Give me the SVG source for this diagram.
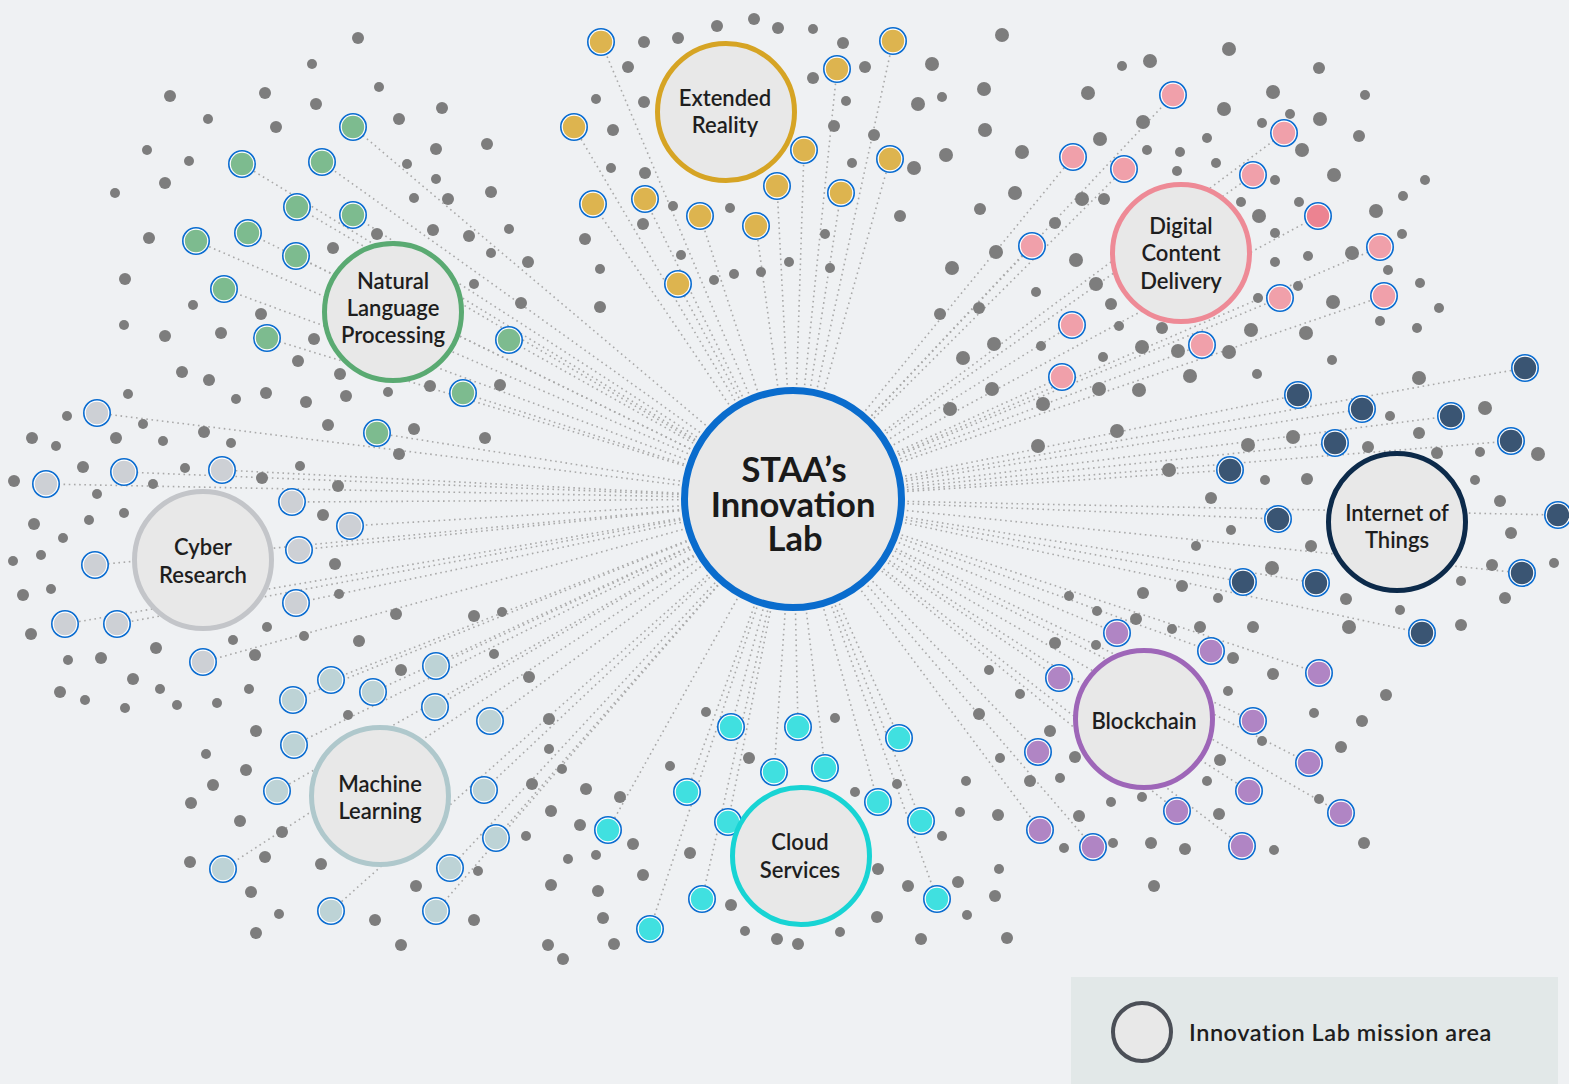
<svg xmlns="http://www.w3.org/2000/svg" xmlns:xlink="http://www.w3.org/1999/xlink" width="1569" height="1084" viewBox="0 0 1569 1084">
<style>
.lbl{font-family:Lato,"Liberation Sans",sans-serif;font-weight:600;font-size:22px;fill:#1e1e1e;text-anchor:middle}
.ctr{font-family:Lato,"Liberation Sans",sans-serif;font-weight:700;font-size:34.5px;fill:#1a1a1a;text-anchor:middle}
.leg{font-family:Lato,"Liberation Sans",sans-serif;font-weight:600;font-size:23.5px;letter-spacing:0.55px;fill:#1e1e1e}
.conn line{stroke:#a9a9a9;stroke-width:1.6;stroke-dasharray:1.6 3.6;fill:none}
.gray circle{fill:#7d7d7d}
.area{fill:#e8e8e8;stroke-width:5}
.ring{fill:#ffffff;stroke:#0a6cd0;stroke-width:1.6}
</style>
<defs>
<g id="dXR"><circle r="13.2" class="ring"/><circle r="11.2" fill="#ddb44f"/></g>
<g id="dNLP"><circle r="13.2" class="ring"/><circle r="11.2" fill="#7dbb8f"/></g>
<g id="dDCD"><circle r="13.2" class="ring"/><circle r="11.2" fill="#f0a0aa"/></g>
<g id="dDCD2"><circle r="13.2" class="ring"/><circle r="11.2" fill="#ec8391"/></g>
<g id="dIOT"><circle r="13.2" class="ring"/><circle r="11.2" fill="#3a5573"/></g>
<g id="dBC"><circle r="13.2" class="ring"/><circle r="11.2" fill="#b085c4"/></g>
<g id="dCS"><circle r="13.2" class="ring"/><circle r="11.2" fill="#40e0e0"/></g>
<g id="dML"><circle r="13.2" class="ring"/><circle r="11.2" fill="#bdd3d6"/></g>
<g id="dCR"><circle r="13.2" class="ring"/><circle r="11.2" fill="#cdd0d5"/></g>
</defs>
<rect x="0" y="0" width="1569" height="1084" fill="#eff1f3"/>

<g id="connectors" class="conn">
<line x1="793" y1="499" x2="601" y2="42"/><line x1="793" y1="499" x2="574" y2="127"/><line x1="793" y1="499" x2="593" y2="204"/><line x1="793" y1="499" x2="645" y2="199"/><line x1="793" y1="499" x2="700" y2="216"/><line x1="793" y1="499" x2="756" y2="226"/><line x1="793" y1="499" x2="777" y2="186"/><line x1="793" y1="499" x2="804" y2="150"/><line x1="793" y1="499" x2="837" y2="69"/><line x1="793" y1="499" x2="893" y2="41"/><line x1="793" y1="499" x2="890" y2="159"/><line x1="793" y1="499" x2="841" y2="193"/><line x1="793" y1="499" x2="678" y2="284"/>
<line x1="793" y1="499" x2="353" y2="127"/><line x1="793" y1="499" x2="242" y2="164"/><line x1="793" y1="499" x2="322" y2="162"/><line x1="793" y1="499" x2="297" y2="207"/><line x1="793" y1="499" x2="353" y2="215"/><line x1="793" y1="499" x2="196" y2="241"/><line x1="793" y1="499" x2="248" y2="233"/><line x1="793" y1="499" x2="296" y2="256"/><line x1="793" y1="499" x2="224" y2="289"/><line x1="793" y1="499" x2="267" y2="338"/><line x1="793" y1="499" x2="509" y2="340"/><line x1="793" y1="499" x2="463" y2="393"/><line x1="793" y1="499" x2="377" y2="433"/>
<line x1="793" y1="499" x2="1173" y2="95"/><line x1="793" y1="499" x2="1284" y2="133"/><line x1="793" y1="499" x2="1073" y2="157"/><line x1="793" y1="499" x2="1124" y2="169"/><line x1="793" y1="499" x2="1253" y2="175"/><line x1="793" y1="499" x2="1318" y2="216"/><line x1="793" y1="499" x2="1380" y2="247"/><line x1="793" y1="499" x2="1384" y2="296"/><line x1="793" y1="499" x2="1280" y2="298"/><line x1="793" y1="499" x2="1072" y2="325"/><line x1="793" y1="499" x2="1202" y2="345"/><line x1="793" y1="499" x2="1062" y2="377"/><line x1="793" y1="499" x2="1032" y2="246"/>
<line x1="793" y1="499" x2="1525" y2="368"/><line x1="793" y1="499" x2="1298" y2="395"/><line x1="793" y1="499" x2="1362" y2="409"/><line x1="793" y1="499" x2="1451" y2="416"/><line x1="793" y1="499" x2="1335" y2="443"/><line x1="793" y1="499" x2="1511" y2="441"/><line x1="793" y1="499" x2="1230" y2="470"/><line x1="793" y1="499" x2="1278" y2="519"/><line x1="793" y1="499" x2="1558" y2="515"/><line x1="793" y1="499" x2="1522" y2="573"/><line x1="793" y1="499" x2="1243" y2="582"/><line x1="793" y1="499" x2="1316" y2="583"/><line x1="793" y1="499" x2="1422" y2="633"/>
<line x1="793" y1="499" x2="1117" y2="633"/><line x1="793" y1="499" x2="1211" y2="651"/><line x1="793" y1="499" x2="1059" y2="678"/><line x1="793" y1="499" x2="1319" y2="673"/><line x1="793" y1="499" x2="1253" y2="721"/><line x1="793" y1="499" x2="1038" y2="752"/><line x1="793" y1="499" x2="1309" y2="763"/><line x1="793" y1="499" x2="1249" y2="791"/><line x1="793" y1="499" x2="1177" y2="811"/><line x1="793" y1="499" x2="1341" y2="813"/><line x1="793" y1="499" x2="1040" y2="830"/><line x1="793" y1="499" x2="1093" y2="847"/><line x1="793" y1="499" x2="1242" y2="846"/>
<line x1="793" y1="499" x2="731" y2="727"/><line x1="793" y1="499" x2="798" y2="727"/><line x1="793" y1="499" x2="899" y2="738"/><line x1="793" y1="499" x2="774" y2="772"/><line x1="793" y1="499" x2="825" y2="768"/><line x1="793" y1="499" x2="687" y2="792"/><line x1="793" y1="499" x2="878" y2="802"/><line x1="793" y1="499" x2="728" y2="822"/><line x1="793" y1="499" x2="608" y2="830"/><line x1="793" y1="499" x2="921" y2="821"/><line x1="793" y1="499" x2="702" y2="899"/><line x1="793" y1="499" x2="937" y2="899"/><line x1="793" y1="499" x2="650" y2="929"/>
<line x1="793" y1="499" x2="436" y2="666"/><line x1="793" y1="499" x2="331" y2="680"/><line x1="793" y1="499" x2="373" y2="692"/><line x1="793" y1="499" x2="293" y2="700"/><line x1="793" y1="499" x2="435" y2="707"/><line x1="793" y1="499" x2="490" y2="721"/><line x1="793" y1="499" x2="294" y2="745"/><line x1="793" y1="499" x2="277" y2="791"/><line x1="793" y1="499" x2="484" y2="790"/><line x1="793" y1="499" x2="496" y2="838"/><line x1="793" y1="499" x2="223" y2="869"/><line x1="793" y1="499" x2="450" y2="868"/><line x1="793" y1="499" x2="331" y2="911"/><line x1="793" y1="499" x2="436" y2="911"/>
<line x1="793" y1="499" x2="97" y2="413"/><line x1="793" y1="499" x2="46" y2="484"/><line x1="793" y1="499" x2="124" y2="472"/><line x1="793" y1="499" x2="222" y2="470"/><line x1="793" y1="499" x2="292" y2="502"/><line x1="793" y1="499" x2="350" y2="526"/><line x1="793" y1="499" x2="299" y2="550"/><line x1="793" y1="499" x2="95" y2="565"/><line x1="793" y1="499" x2="296" y2="603"/><line x1="793" y1="499" x2="65" y2="624"/><line x1="793" y1="499" x2="117" y2="624"/><line x1="793" y1="499" x2="203" y2="662"/>
</g>

<g id="background-dots" class="gray">
<circle cx="358" cy="38" r="6"/><circle cx="312" cy="64" r="5"/><circle cx="379" cy="87" r="5"/><circle cx="170" cy="96" r="6"/><circle cx="265" cy="93" r="6"/><circle cx="316" cy="104" r="6"/><circle cx="208" cy="119" r="5"/><circle cx="276" cy="127" r="6"/><circle cx="399" cy="119" r="6"/><circle cx="442" cy="108" r="6"/><circle cx="147" cy="150" r="5"/><circle cx="189" cy="161" r="5"/><circle cx="165" cy="183" r="6"/><circle cx="115" cy="193" r="5"/><circle cx="436" cy="149" r="6"/><circle cx="487" cy="144" r="6"/><circle cx="407" cy="164" r="5"/><circle cx="436" cy="179" r="5"/><circle cx="491" cy="192" r="6"/><circle cx="414" cy="198" r="5"/><circle cx="448" cy="199" r="6"/><circle cx="149" cy="238" r="6"/><circle cx="377" cy="234" r="6"/><circle cx="333" cy="248" r="6"/><circle cx="433" cy="230" r="6"/><circle cx="469" cy="236" r="6"/><circle cx="509" cy="229" r="5"/><circle cx="491" cy="253" r="5"/><circle cx="125" cy="279" r="6"/><circle cx="193" cy="305" r="5"/><circle cx="261" cy="314" r="6"/><circle cx="474" cy="284" r="5"/><circle cx="124" cy="325" r="5"/><circle cx="165" cy="336" r="6"/><circle cx="221" cy="333" r="6"/><circle cx="314" cy="339" r="6"/><circle cx="298" cy="361" r="6"/><circle cx="182" cy="372" r="6"/><circle cx="209" cy="380" r="6"/><circle cx="236" cy="399" r="5"/><circle cx="266" cy="393" r="6"/><circle cx="306" cy="402" r="6"/><circle cx="340" cy="374" r="6"/><circle cx="346" cy="396" r="6"/><circle cx="388" cy="392" r="5"/><circle cx="430" cy="386" r="6"/><circle cx="500" cy="385" r="6"/><circle cx="328" cy="425" r="6"/><circle cx="414" cy="429" r="6"/><circle cx="399" cy="454" r="6"/><circle cx="485" cy="438" r="6"/><circle cx="300" cy="466" r="5"/><circle cx="128" cy="394" r="5"/><circle cx="67" cy="416" r="5"/><circle cx="32" cy="438" r="6"/><circle cx="56" cy="446" r="5"/><circle cx="116" cy="438" r="6"/><circle cx="143" cy="424" r="5"/><circle cx="163" cy="441" r="5"/><circle cx="204" cy="432" r="6"/><circle cx="231" cy="443" r="5"/><circle cx="83" cy="467" r="6"/><circle cx="185" cy="468" r="5"/><circle cx="14" cy="481" r="6"/><circle cx="262" cy="478" r="6"/><circle cx="521" cy="303" r="6"/>
<circle cx="644" cy="42" r="6"/><circle cx="678" cy="38" r="6"/><circle cx="717" cy="26" r="6"/><circle cx="754" cy="19" r="6"/><circle cx="778" cy="28" r="6"/><circle cx="813" cy="29" r="5"/><circle cx="843" cy="43" r="6"/><circle cx="1002" cy="35" r="7"/><circle cx="628" cy="67" r="6"/><circle cx="813" cy="78" r="6"/><circle cx="865" cy="67" r="6"/><circle cx="932" cy="64" r="7"/><circle cx="596" cy="99" r="5"/><circle cx="644" cy="102" r="6"/><circle cx="846" cy="101" r="5"/><circle cx="918" cy="104" r="7"/><circle cx="942" cy="97" r="5"/><circle cx="984" cy="89" r="7"/><circle cx="613" cy="130" r="6"/><circle cx="834" cy="126" r="6"/><circle cx="874" cy="135" r="6"/><circle cx="985" cy="130" r="7"/><circle cx="611" cy="168" r="5"/><circle cx="645" cy="173" r="6"/><circle cx="852" cy="163" r="5"/><circle cx="914" cy="168" r="7"/><circle cx="946" cy="155" r="7"/><circle cx="1022" cy="152" r="7"/><circle cx="673" cy="206" r="5"/><circle cx="730" cy="208" r="5"/><circle cx="643" cy="224" r="6"/><circle cx="585" cy="239" r="6"/><circle cx="900" cy="216" r="6"/><circle cx="980" cy="209" r="6"/><circle cx="1015" cy="193" r="7"/><circle cx="825" cy="234" r="5"/><circle cx="681" cy="255" r="5"/><circle cx="600" cy="269" r="5"/><circle cx="789" cy="262" r="5"/><circle cx="830" cy="268" r="5"/><circle cx="714" cy="280" r="5"/><circle cx="734" cy="274" r="5"/><circle cx="761" cy="272" r="5"/><circle cx="528" cy="262" r="6"/><circle cx="600" cy="307" r="6"/><circle cx="996" cy="252" r="7"/><circle cx="952" cy="268" r="7"/><circle cx="1036" cy="292" r="5"/><circle cx="940" cy="314" r="6"/><circle cx="979" cy="308" r="6"/><circle cx="994" cy="344" r="7"/><circle cx="963" cy="358" r="7"/><circle cx="1041" cy="346" r="5"/><circle cx="992" cy="389" r="7"/><circle cx="950" cy="409" r="7"/><circle cx="1043" cy="404" r="7"/><circle cx="1038" cy="446" r="7"/>
<circle cx="1229" cy="49" r="7"/><circle cx="1150" cy="61" r="7"/><circle cx="1122" cy="66" r="5"/><circle cx="1319" cy="68" r="6"/><circle cx="1088" cy="93" r="7"/><circle cx="1273" cy="92" r="7"/><circle cx="1365" cy="95" r="5"/><circle cx="1224" cy="109" r="7"/><circle cx="1290" cy="114" r="5"/><circle cx="1262" cy="123" r="5"/><circle cx="1320" cy="119" r="7"/><circle cx="1143" cy="122" r="7"/><circle cx="1100" cy="139" r="7"/><circle cx="1207" cy="138" r="5"/><circle cx="1359" cy="136" r="6"/><circle cx="1147" cy="150" r="5"/><circle cx="1180" cy="152" r="5"/><circle cx="1302" cy="150" r="7"/><circle cx="1216" cy="163" r="5"/><circle cx="1177" cy="171" r="5"/><circle cx="1275" cy="180" r="5"/><circle cx="1334" cy="175" r="7"/><circle cx="1425" cy="180" r="5"/><circle cx="1082" cy="199" r="7"/><circle cx="1104" cy="199" r="6"/><circle cx="1241" cy="202" r="5"/><circle cx="1259" cy="216" r="7"/><circle cx="1299" cy="202" r="5"/><circle cx="1403" cy="196" r="5"/><circle cx="1376" cy="211" r="7"/><circle cx="1055" cy="223" r="6"/><circle cx="1275" cy="233" r="5"/><circle cx="1402" cy="234" r="5"/><circle cx="1076" cy="260" r="7"/><circle cx="1275" cy="262" r="5"/><circle cx="1308" cy="256" r="5"/><circle cx="1352" cy="253" r="7"/><circle cx="1388" cy="270" r="5"/><circle cx="1096" cy="284" r="7"/><circle cx="1298" cy="286" r="5"/><circle cx="1420" cy="283" r="5"/><circle cx="1111" cy="304" r="6"/><circle cx="1258" cy="298" r="5"/><circle cx="1333" cy="302" r="7"/><circle cx="1439" cy="308" r="5"/><circle cx="1119" cy="326" r="5"/><circle cx="1162" cy="328" r="6"/><circle cx="1251" cy="330" r="7"/><circle cx="1380" cy="321" r="5"/><circle cx="1417" cy="328" r="5"/><circle cx="1306" cy="333" r="7"/><circle cx="1142" cy="347" r="7"/><circle cx="1178" cy="351" r="7"/><circle cx="1229" cy="352" r="7"/><circle cx="1103" cy="357" r="5"/><circle cx="1332" cy="360" r="5"/><circle cx="1190" cy="376" r="7"/><circle cx="1257" cy="374" r="5"/><circle cx="1099" cy="389" r="7"/><circle cx="1139" cy="390" r="7"/><circle cx="1419" cy="378" r="7"/><circle cx="1117" cy="431" r="7"/><circle cx="1390" cy="416" r="5"/><circle cx="1485" cy="408" r="7"/><circle cx="1248" cy="445" r="7"/><circle cx="1293" cy="437" r="7"/><circle cx="1368" cy="447" r="6"/><circle cx="1419" cy="433" r="6"/><circle cx="1437" cy="453" r="6"/><circle cx="1480" cy="452" r="5"/><circle cx="1538" cy="454" r="7"/><circle cx="1169" cy="470" r="7"/>
<circle cx="1265" cy="480" r="5"/><circle cx="1307" cy="479" r="6"/><circle cx="1475" cy="480" r="5"/><circle cx="1211" cy="498" r="6"/><circle cx="1500" cy="501" r="6"/><circle cx="1231" cy="530" r="5"/><circle cx="1196" cy="546" r="5"/><circle cx="1311" cy="546" r="6"/><circle cx="1511" cy="533" r="6"/><circle cx="1554" cy="563" r="5"/><circle cx="1272" cy="568" r="7"/><circle cx="1492" cy="565" r="6"/><circle cx="1461" cy="581" r="5"/><circle cx="1182" cy="586" r="6"/><circle cx="1143" cy="593" r="6"/><circle cx="1218" cy="598" r="5"/><circle cx="1069" cy="596" r="5"/><circle cx="1346" cy="599" r="6"/><circle cx="1505" cy="598" r="6"/><circle cx="1097" cy="611" r="5"/><circle cx="1400" cy="610" r="5"/><circle cx="1136" cy="619" r="6"/><circle cx="1200" cy="627" r="6"/><circle cx="1172" cy="629" r="5"/><circle cx="1253" cy="627" r="6"/><circle cx="1349" cy="627" r="7"/><circle cx="1461" cy="625" r="6"/><circle cx="1055" cy="643" r="6"/><circle cx="1096" cy="645" r="5"/><circle cx="1233" cy="658" r="6"/><circle cx="1273" cy="674" r="6"/><circle cx="1228" cy="691" r="5"/><circle cx="1386" cy="695" r="6"/><circle cx="1314" cy="713" r="5"/><circle cx="1362" cy="721" r="6"/><circle cx="1050" cy="731" r="6"/><circle cx="1262" cy="741" r="5"/><circle cx="1341" cy="747" r="6"/><circle cx="1075" cy="757" r="6"/><circle cx="1220" cy="760" r="6"/><circle cx="1060" cy="778" r="5"/><circle cx="1207" cy="781" r="5"/><circle cx="1111" cy="802" r="5"/><circle cx="1142" cy="797" r="5"/><circle cx="1319" cy="799" r="5"/><circle cx="1079" cy="816" r="6"/><circle cx="1219" cy="814" r="6"/><circle cx="1064" cy="848" r="5"/><circle cx="1113" cy="843" r="5"/><circle cx="1151" cy="843" r="6"/><circle cx="1185" cy="849" r="6"/><circle cx="1274" cy="850" r="5"/><circle cx="1364" cy="843" r="6"/><circle cx="1154" cy="886" r="6"/>
<circle cx="338" cy="486" r="6"/><circle cx="97" cy="494" r="5"/><circle cx="153" cy="484" r="5"/><circle cx="34" cy="524" r="6"/><circle cx="89" cy="520" r="5"/><circle cx="124" cy="513" r="5"/><circle cx="63" cy="538" r="5"/><circle cx="323" cy="515" r="6"/><circle cx="13" cy="561" r="5"/><circle cx="41" cy="555" r="5"/><circle cx="335" cy="564" r="6"/><circle cx="23" cy="595" r="6"/><circle cx="51" cy="589" r="5"/><circle cx="339" cy="594" r="5"/><circle cx="31" cy="634" r="6"/><circle cx="396" cy="614" r="6"/><circle cx="474" cy="616" r="6"/><circle cx="502" cy="612" r="5"/><circle cx="267" cy="627" r="5"/><circle cx="304" cy="636" r="5"/><circle cx="233" cy="640" r="5"/><circle cx="156" cy="648" r="6"/><circle cx="359" cy="641" r="6"/><circle cx="68" cy="660" r="5"/><circle cx="101" cy="658" r="6"/><circle cx="255" cy="655" r="6"/><circle cx="494" cy="654" r="5"/><circle cx="401" cy="670" r="6"/><circle cx="133" cy="679" r="6"/><circle cx="60" cy="692" r="6"/><circle cx="160" cy="689" r="5"/><circle cx="85" cy="700" r="5"/><circle cx="249" cy="689" r="5"/><circle cx="125" cy="708" r="5"/><circle cx="177" cy="705" r="5"/><circle cx="217" cy="703" r="5"/><circle cx="348" cy="715" r="5"/><circle cx="256" cy="731" r="6"/><circle cx="206" cy="754" r="5"/><circle cx="246" cy="770" r="6"/><circle cx="213" cy="785" r="6"/><circle cx="191" cy="803" r="6"/><circle cx="240" cy="821" r="6"/><circle cx="282" cy="832" r="6"/><circle cx="190" cy="862" r="6"/><circle cx="265" cy="857" r="6"/><circle cx="321" cy="864" r="6"/><circle cx="251" cy="892" r="6"/><circle cx="279" cy="914" r="5"/><circle cx="375" cy="920" r="6"/><circle cx="474" cy="920" r="6"/><circle cx="478" cy="871" r="5"/><circle cx="416" cy="886" r="6"/><circle cx="256" cy="933" r="6"/><circle cx="401" cy="945" r="6"/>
<circle cx="529" cy="677" r="6"/><circle cx="549" cy="719" r="6"/><circle cx="549" cy="749" r="5"/><circle cx="562" cy="769" r="5"/><circle cx="532" cy="784" r="6"/><circle cx="551" cy="811" r="6"/><circle cx="526" cy="836" r="5"/><circle cx="580" cy="825" r="6"/><circle cx="586" cy="789" r="6"/><circle cx="620" cy="797" r="6"/><circle cx="633" cy="844" r="6"/><circle cx="568" cy="859" r="5"/><circle cx="596" cy="855" r="5"/><circle cx="643" cy="875" r="6"/><circle cx="551" cy="885" r="6"/><circle cx="598" cy="891" r="6"/><circle cx="603" cy="918" r="6"/><circle cx="548" cy="945" r="6"/><circle cx="563" cy="959" r="6"/><circle cx="614" cy="944" r="6"/><circle cx="706" cy="712" r="5"/><circle cx="670" cy="766" r="5"/><circle cx="749" cy="758" r="6"/><circle cx="835" cy="718" r="5"/><circle cx="690" cy="853" r="6"/><circle cx="731" cy="905" r="6"/><circle cx="745" cy="931" r="5"/><circle cx="777" cy="939" r="6"/><circle cx="798" cy="944" r="6"/><circle cx="840" cy="932" r="5"/><circle cx="855" cy="792" r="5"/><circle cx="897" cy="784" r="5"/><circle cx="878" cy="869" r="6"/><circle cx="877" cy="917" r="6"/><circle cx="908" cy="886" r="6"/><circle cx="958" cy="882" r="6"/><circle cx="942" cy="836" r="5"/><circle cx="921" cy="939" r="6"/><circle cx="967" cy="915" r="5"/><circle cx="995" cy="896" r="6"/><circle cx="999" cy="869" r="5"/><circle cx="1007" cy="938" r="6"/><circle cx="960" cy="812" r="5"/><circle cx="998" cy="815" r="6"/><circle cx="966" cy="781" r="5"/><circle cx="1000" cy="758" r="5"/><circle cx="1030" cy="781" r="6"/><circle cx="979" cy="714" r="6"/><circle cx="1020" cy="694" r="5"/><circle cx="989" cy="670" r="5"/>
</g>

<g id="dots-extended-reality">
<use href="#dXR" x="601" y="42"/><use href="#dXR" x="574" y="127"/><use href="#dXR" x="593" y="204"/><use href="#dXR" x="645" y="199"/><use href="#dXR" x="700" y="216"/><use href="#dXR" x="756" y="226"/><use href="#dXR" x="777" y="186"/><use href="#dXR" x="804" y="150"/><use href="#dXR" x="837" y="69"/><use href="#dXR" x="893" y="41"/><use href="#dXR" x="890" y="159"/><use href="#dXR" x="841" y="193"/><use href="#dXR" x="678" y="284"/>
</g>
<g id="dots-nlp">
<use href="#dNLP" x="353" y="127"/><use href="#dNLP" x="242" y="164"/><use href="#dNLP" x="322" y="162"/><use href="#dNLP" x="297" y="207"/><use href="#dNLP" x="353" y="215"/><use href="#dNLP" x="196" y="241"/><use href="#dNLP" x="248" y="233"/><use href="#dNLP" x="296" y="256"/><use href="#dNLP" x="224" y="289"/><use href="#dNLP" x="267" y="338"/><use href="#dNLP" x="509" y="340"/><use href="#dNLP" x="463" y="393"/><use href="#dNLP" x="377" y="433"/>
</g>
<g id="dots-digital-content">
<use href="#dDCD" x="1173" y="95"/><use href="#dDCD" x="1284" y="133"/><use href="#dDCD" x="1073" y="157"/><use href="#dDCD" x="1124" y="169"/><use href="#dDCD" x="1253" y="175"/><use href="#dDCD2" x="1318" y="216"/><use href="#dDCD" x="1380" y="247"/><use href="#dDCD" x="1384" y="296"/><use href="#dDCD" x="1280" y="298"/><use href="#dDCD" x="1072" y="325"/><use href="#dDCD" x="1202" y="345"/><use href="#dDCD" x="1062" y="377"/><use href="#dDCD" x="1032" y="246"/>
</g>
<g id="dots-iot">
<use href="#dIOT" x="1525" y="368"/><use href="#dIOT" x="1298" y="395"/><use href="#dIOT" x="1362" y="409"/><use href="#dIOT" x="1451" y="416"/><use href="#dIOT" x="1335" y="443"/><use href="#dIOT" x="1511" y="441"/><use href="#dIOT" x="1230" y="470"/><use href="#dIOT" x="1278" y="519"/><use href="#dIOT" x="1558" y="515"/><use href="#dIOT" x="1522" y="573"/><use href="#dIOT" x="1243" y="582"/><use href="#dIOT" x="1316" y="583"/><use href="#dIOT" x="1422" y="633"/>
</g>
<g id="dots-blockchain">
<use href="#dBC" x="1117" y="633"/><use href="#dBC" x="1211" y="651"/><use href="#dBC" x="1059" y="678"/><use href="#dBC" x="1319" y="673"/><use href="#dBC" x="1253" y="721"/><use href="#dBC" x="1038" y="752"/><use href="#dBC" x="1309" y="763"/><use href="#dBC" x="1249" y="791"/><use href="#dBC" x="1177" y="811"/><use href="#dBC" x="1341" y="813"/><use href="#dBC" x="1040" y="830"/><use href="#dBC" x="1093" y="847"/><use href="#dBC" x="1242" y="846"/>
</g>
<g id="dots-cloud">
<use href="#dCS" x="731" y="727"/><use href="#dCS" x="798" y="727"/><use href="#dCS" x="899" y="738"/><use href="#dCS" x="774" y="772"/><use href="#dCS" x="825" y="768"/><use href="#dCS" x="687" y="792"/><use href="#dCS" x="878" y="802"/><use href="#dCS" x="728" y="822"/><use href="#dCS" x="608" y="830"/><use href="#dCS" x="921" y="821"/><use href="#dCS" x="702" y="899"/><use href="#dCS" x="937" y="899"/><use href="#dCS" x="650" y="929"/>
</g>
<g id="dots-ml">
<use href="#dML" x="436" y="666"/><use href="#dML" x="331" y="680"/><use href="#dML" x="373" y="692"/><use href="#dML" x="293" y="700"/><use href="#dML" x="435" y="707"/><use href="#dML" x="490" y="721"/><use href="#dML" x="294" y="745"/><use href="#dML" x="277" y="791"/><use href="#dML" x="484" y="790"/><use href="#dML" x="496" y="838"/><use href="#dML" x="223" y="869"/><use href="#dML" x="450" y="868"/><use href="#dML" x="331" y="911"/><use href="#dML" x="436" y="911"/>
</g>
<g id="dots-cyber">
<use href="#dCR" x="97" y="413"/><use href="#dCR" x="46" y="484"/><use href="#dCR" x="124" y="472"/><use href="#dCR" x="222" y="470"/><use href="#dCR" x="292" y="502"/><use href="#dCR" x="350" y="526"/><use href="#dCR" x="299" y="550"/><use href="#dCR" x="95" y="565"/><use href="#dCR" x="296" y="603"/><use href="#dCR" x="65" y="624"/><use href="#dCR" x="117" y="624"/><use href="#dCR" x="203" y="662"/>
</g>

<g id="node-extended-reality">
<circle cx="726" cy="112" r="68.5" class="area" stroke="#d6a424"/>
<text class="lbl" x="725" y="106">Extended</text><text class="lbl" x="725" y="133">Reality</text>
</g>
<g id="node-nlp">
<circle cx="393" cy="312" r="68.5" class="area" stroke="#5aaa72"/>
<text class="lbl" x="393" y="289">Natural</text><text class="lbl" x="393" y="316">Language</text><text class="lbl" x="393" y="343">Processing</text>
</g>
<g id="node-digital-content">
<circle cx="1181" cy="253" r="68.5" class="area" stroke="#ee8a96"/>
<text class="lbl" x="1181" y="234">Digital</text><text class="lbl" x="1181" y="261">Content</text><text class="lbl" x="1181" y="289">Delivery</text>
</g>
<g id="node-iot">
<circle cx="1397" cy="522" r="68.5" class="area" stroke="#0c2a4a"/>
<text class="lbl" x="1397" y="521">Internet of</text><text class="lbl" x="1397" y="548">Things</text>
</g>
<g id="node-blockchain">
<circle cx="1144" cy="719" r="68.5" class="area" stroke="#9e66b8"/>
<text class="lbl" x="1144" y="729">Blockchain</text>
</g>
<g id="node-cloud">
<circle cx="801" cy="856" r="68.5" class="area" stroke="#18d4d4"/>
<text class="lbl" x="800" y="850">Cloud</text><text class="lbl" x="800" y="878">Services</text>
</g>
<g id="node-ml">
<circle cx="380" cy="796" r="68.5" class="area" stroke="#afc8cc"/>
<text class="lbl" x="380" y="792">Machine</text><text class="lbl" x="380" y="819">Learning</text>
</g>
<g id="node-cyber">
<circle cx="203" cy="560" r="68.5" class="area" stroke="#c3c5c9"/>
<text class="lbl" x="203" y="555">Cyber</text><text class="lbl" x="203" y="583">Research</text>
</g>

<g id="node-center">
<circle cx="793" cy="499" r="108.5" fill="#e8e8e8" stroke="#0a6ccd" stroke-width="7"/>
<text class="ctr" x="794" y="482">STAA’s</text><text class="ctr" x="793" y="517">Innovation</text><text class="ctr" x="795" y="551">Lab</text>
</g>

<g id="legend">
<rect x="1071" y="977" width="487" height="107" fill="#e2e8e8"/>
<circle cx="1142" cy="1032" r="29" fill="#e8e8e8" stroke="#4b4f57" stroke-width="4"/>
<text class="leg" x="1189" y="1041">Innovation Lab mission area</text>
</g>
</svg>
